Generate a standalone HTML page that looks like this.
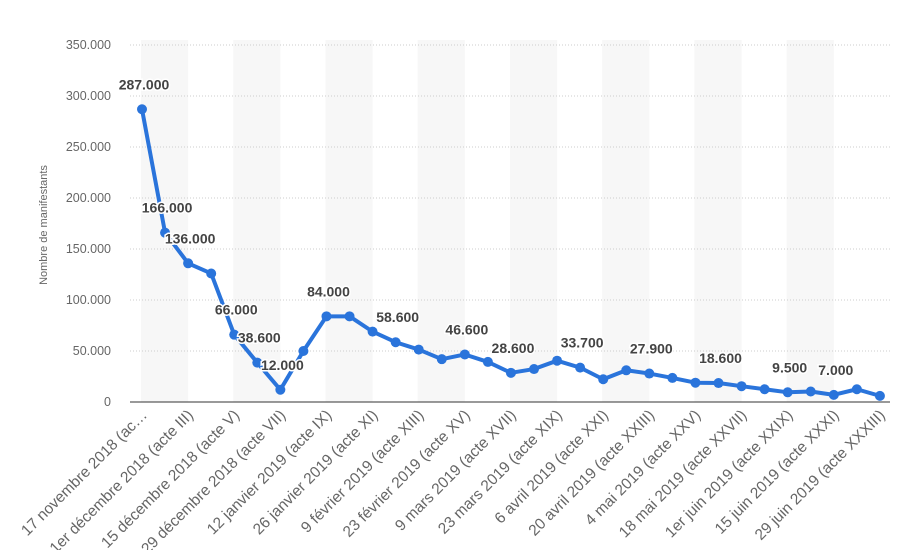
<!DOCTYPE html>
<html><head><meta charset="utf-8"><style>
body{margin:0;background:#fff;font-family:"Liberation Sans",sans-serif}
svg{display:block}
</style></head><body>
<svg id="c" width="899" height="550"></svg>
<script>
const categories=["17 novembre 2018 (ac…","24 novembre 2018 (acte II)","1er décembre 2018 (acte III)","8 décembre 2018 (acte IV)","15 décembre 2018 (acte V)","22 décembre 2018 (acte VI)","29 décembre 2018 (acte VII)","5 janvier 2019 (acte VIII)","12 janvier 2019 (acte IX)","19 janvier 2019 (acte X)","26 janvier 2019 (acte XI)","2 février 2019 (acte XII)","9 février 2019 (acte XIII)","16 février 2019 (acte XIV)","23 février 2019 (acte XV)","2 mars 2019 (acte XVI)","9 mars 2019 (acte XVII)","16 mars 2019 (acte XVIII)","23 mars 2019 (acte XIX)","30 mars 2019 (acte XX)","6 avril 2019 (acte XXI)","13 avril 2019 (acte XXII)","20 avril 2019 (acte XXIII)","27 avril 2019 (acte XXIV)","4 mai 2019 (acte XXV)","11 mai 2019 (acte XXVI)","18 mai 2019 (acte XXVII)","25 mai 2019 (acte XXVIII)","1er juin 2019 (acte XXIX)","8 juin 2019 (acte XXX)","15 juin 2019 (acte XXXI)","22 juin 2019 (acte XXXII)","29 juin 2019 (acte XXXIII)"];
const values=[287000,166000,136000,126000,66000,38600,12000,50000,84000,84000,69000,58600,51400,42000,46600,39300,28600,32300,40500,33700,22300,31100,27900,23600,18900,18600,15500,12500,9500,10300,7000,12500,6000];
const labeledIdx=[0,1,2,4,5,6,8,11,14,16,19,22,25,28,30];
const yTicks=[0,50000,100000,150000,200000,250000,300000,350000];
const yTickLabels=["0","50.000","100.000","150.000","200.000","250.000","300.000","350.000"];
const NS="http://www.w3.org/2000/svg",svg=document.getElementById('c');
const x0=142,step=23.06,yb=402,ppu=357/350000;
const X=i=>x0+i*step, Y=v=>yb-v*ppu;
const fmt=v=>String(v).replace(/\B(?=(\d{3})+(?!\d))/g,'.');
function mk(t,a,p){const e=document.createElementNS(NS,t);for(const k in a)e.setAttribute(k,a[k]);(p||svg).appendChild(e);return e;}
for(let i=0;i<categories.length-1;i+=4){const r=mk('rect',{x:X(i)-1,y:40,width:Math.min(step*2+1,890-X(i)),height:yb-40,fill:'#f7f7f7'});

}
yTicks.forEach((t,k)=>{
 if(t>0){const g=mk('line',{x1:130,x2:890,y1:Y(t),y2:Y(t),stroke:'#ccc','stroke-dasharray':'1,2'});
 
 }
 const tx=mk('text',{x:111,y:Y(t)+4,'text-anchor':'end','font-size':12.5,fill:'#666'});tx.textContent=yTickLabels[k];
 
 
});
const bl=mk('line',{x1:130,x2:890,y1:yb,y2:yb,stroke:'#333','stroke-width':1});


const yt=mk('text',{transform:'translate(47,225) rotate(-90)','text-anchor':'middle','font-size':11,fill:'#666'});yt.textContent='Nombre de manifestants';


for(let i=0;i<categories.length;i+=2){const t=mk('text',{transform:`translate(${X(i)+6},${yb+14}) rotate(-45)`,'text-anchor':'end','font-size':15.5,fill:'#666'});t.textContent=categories[i];
 
 }
const line=mk('polyline',{points:values.map((v,i)=>X(i)+','+Y(v)).join(' '),fill:'none',stroke:'#2a74db','stroke-width':4,'stroke-linejoin':'round'});


values.forEach((v,i)=>{const c=mk('circle',{cx:X(i),cy:Y(v),r:5,fill:'#2a74db'});
 
 });
labeledIdx.forEach(i=>{const t=mk('text',{x:X(i)+2,y:Y(values[i])-20,'text-anchor':'middle','font-size':14,'font-weight':'bold',fill:'#444',stroke:'#fff','stroke-width':3,'paint-order':'stroke'});t.textContent=fmt(values[i]);
 
 });
</script>
</body></html>
